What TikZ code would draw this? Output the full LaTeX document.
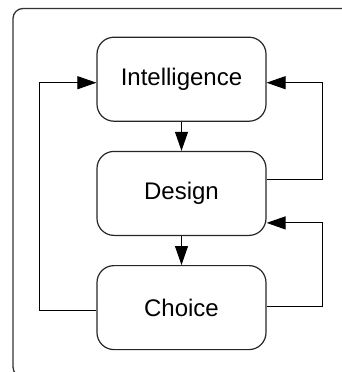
\documentclass[tikz,border=0pt]{standalone}
\usepackage{fontspec}
\setmainfont{Liberation Sans}
\usetikzlibrary{arrows.meta, positioning}

\begin{document}
\begin{tikzpicture}[
        x=1pt, y=1pt,
        font=\fontsize{24}{28}\selectfont,
        >={Triangle[width=13pt,length=19pt]},
        frame/.style={draw=black!80, line width=1.3pt, rounded corners=10pt},
        phase/.style={draw=black!85, line width=1.2pt, rounded corners=17pt, minimum width=169pt, minimum height=84pt, align=center, inner sep=0pt},
        arrow/.style={->, line width=1pt},
        node distance=29pt
    ]

    \useasboundingbox (0,0) rectangle (342,-372);
    \clip (0,0) rectangle (342,-372);
    \draw[frame] (13,-8.5) rectangle (370,-377);

    % Nodes
    \node[phase] (intel) at (181.5,-79.2) {Intelligence};
    \node[phase, below=of intel] (design) {Design};
    \node[phase, below=of design] (choice) {Choice};

    % Arrows
    \draw[arrow] (intel) -- (design);
    \draw[arrow] (design) -- (choice);
    \draw[arrow] ([yshift=-3pt]choice.west) -- ++(-57,0) |- ([yshift=-3.5pt]intel.west);
    \draw[arrow] ([yshift=14pt]design.east) -- ++(56,0) |- ([yshift=-3.5pt]intel.east);
    \draw[arrow] ([yshift=1pt]choice.east) -- ++(56,0) |- ([yshift=-29.5pt]design.east);

\end{tikzpicture}
\end{document}
